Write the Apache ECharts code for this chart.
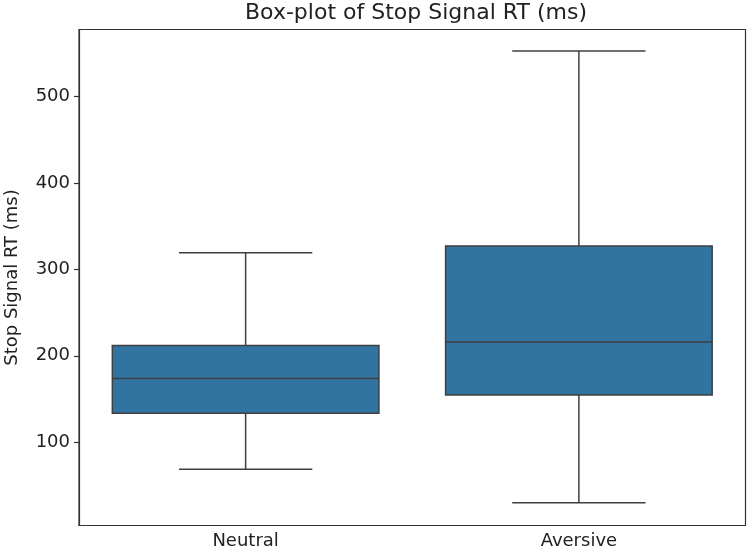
<!DOCTYPE html>
<html>
<head>
<meta charset="utf-8">
<script src="https://cdn.jsdelivr.net/npm/echarts@6/dist/echarts.min.js"></script>
<style>
  html, body { margin: 0; padding: 0; background: #fff; }
  #chart { width: 750px; height: 557px; }
</style>
</head>
<body>
<div id="chart"></div>
<script>
// groups and their box stats: [low whisker, q1, median, q3, high whisker]
const categories = ['Neutral', 'Aversive'];
const lowWhisker = [68.7, 29.7];
const q1 = [133.6, 154.7];
const median = [173.6, 216.1];
const q3 = [211.8, 327.2];
const highWhisker = [319.4, 552.9];
const yTicks = [100, 200, 300, 400, 500];

const boxData = categories.map((c, i) => [i, lowWhisker[i], q1[i], median[i], q3[i], highWhisker[i]]);

const lineColor = '#3f3f3f';
const boxFill = '#3274a1';

function renderBox(params, api) {
  const idx = api.value(0);
  const band = api.size([1, 0])[0];
  const boxW = band * 0.8;
  const capW = band * 0.4;
  const pLow = api.coord([idx, api.value(1)]);
  const pQ1 = api.coord([idx, api.value(2)]);
  const pMed = api.coord([idx, api.value(3)]);
  const pQ3 = api.coord([idx, api.value(4)]);
  const pHigh = api.coord([idx, api.value(5)]);
  const cx = pMed[0];
  const lineStyle = { stroke: lineColor, lineWidth: 1.5 };
  return {
    type: 'group',
    children: [
      { type: 'line', shape: { x1: cx, y1: pQ3[1], x2: cx, y2: pHigh[1] }, style: lineStyle },
      { type: 'line', shape: { x1: cx, y1: pQ1[1], x2: cx, y2: pLow[1] }, style: lineStyle },
      { type: 'line', shape: { x1: cx - capW / 2, y1: pHigh[1], x2: cx + capW / 2, y2: pHigh[1] }, style: lineStyle },
      { type: 'line', shape: { x1: cx - capW / 2, y1: pLow[1], x2: cx + capW / 2, y2: pLow[1] }, style: lineStyle },
      { type: 'rect', shape: { x: cx - boxW / 2, y: pQ3[1], width: boxW, height: pQ1[1] - pQ3[1] },
        style: { fill: boxFill, stroke: lineColor, lineWidth: 1.5 } },
      { type: 'line', shape: { x1: cx - boxW / 2, y1: pMed[1], x2: cx + boxW / 2, y2: pMed[1] }, style: lineStyle }
    ]
  };
}

const chart = echarts.init(document.getElementById('chart'));
chart.setOption({
  animation: false,
  textStyle: { fontFamily: 'DejaVu Sans' },
  title: {
    text: 'Box-plot of Stop Signal RT (ms)',
    left: 411,
    top: -3,
    textAlign: 'center',
    textStyle: { fontFamily: 'DejaVu Sans', fontSize: 22, fontWeight: 'normal', color: '#222' }
  },
  grid: {
    left: 79, right: 4.5, top: 29.5, bottom: 31.5,
    outerBoundsMode: 'none',
    containLabel: false,
    show: true, borderColor: '#333', borderWidth: 1.2, backgroundColor: 'transparent'
  },
  xAxis: {
    type: 'category',
    data: categories,
    boundaryGap: true,
    axisLine: { lineStyle: { color: '#333', width: 1.2 } },
    axisTick: { alignWithLabel: true, length: 5, lineStyle: { color: '#333', width: 1.2 } },
    axisLabel: { fontSize: 18, color: '#222', margin: 7 },
    splitLine: { show: false }
  },
  yAxis: {
    type: 'value',
    min: 3.5,
    max: 577.8,
    name: 'Stop Signal RT (ms)',
    nameLocation: 'middle',
    nameGap: 58,
    nameTextStyle: { fontSize: 18, color: '#222' },
    axisLine: { show: true, lineStyle: { color: '#333', width: 1.2 } },
    axisTick: { show: true, length: 5, customValues: yTicks, lineStyle: { color: '#333', width: 1.2 } },
    axisLabel: { fontSize: 18, color: '#222', margin: 9, customValues: yTicks },
    splitLine: { show: false }
  },
  series: [{
    type: 'custom',
    renderItem: renderBox,
    encode: { x: 0, y: [1, 2, 3, 4, 5] },
    data: boxData
  }]
});
</script>
</body>
</html>
